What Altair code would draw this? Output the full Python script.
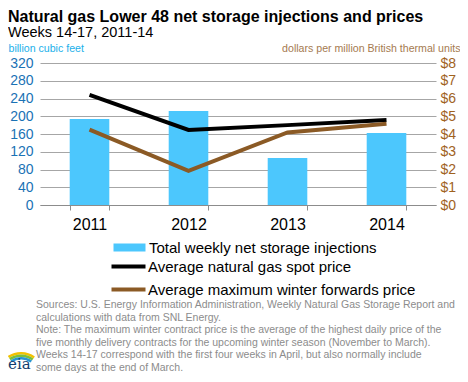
import altair as alt
import pandas as pd

years = ["2011", "2012", "2013", "2014"]
injections = [194, 212, 106, 162]
spot_price = [6.20, 4.23, 4.50, 4.79]
winter_fwd = [4.25, 1.92, 4.09, 4.58]

bar_label = "Total weekly net storage injections"
spot_label = "Average natural gas spot price"
fwd_label = "Average maximum winter forwards price"

notes = [
    "Sources: U.S. Energy Information Administration, Weekly Natural Gas Storage Report and",
    "calculations with data from SNL Energy.",
    "Note: The maximum winter contract price is the average of the highest daily price of the",
    "five monthly delivery contracts for the upcoming winter season (November to March).",
    "Weeks 14-17 correspond with the first four weeks in April, but also normally include",
    "some days at the end of March.",
]

logo_arc_colors = ["#f2c100", "#7cbf3a", "#2a96d4"]
logo_arc_outer = [24, 21.5, 19]

FONT = "Liberation Sans"
BAR_C = "#4cc7fd"
BROWN = "#8b5a25"

bars_df = pd.DataFrame({"year": years, "inj": injections, "series": bar_label})
lines_df = pd.DataFrame({
    "year": years * 2,
    "price": spot_price + winter_fwd,
    "series": [spot_label] * 4 + [fwd_label] * 4,
})

xenc = alt.X(
    "year:N",
    title=None,
    scale=alt.Scale(paddingInner=0.6, paddingOuter=0.3),
    axis=alt.Axis(
        labelAngle=0, labelFontSize=16, labelFont=FONT, labelColor="#000000",
        labelPadding=6, tickBand="extent", tickSize=5, tickColor="#8c8c8c",
        domainColor="#8c8c8c", grid=False,
    ),
)

bars = alt.Chart(bars_df).mark_bar(color=BAR_C).encode(
    x=xenc,
    y=alt.Y(
        "inj:Q",
        scale=alt.Scale(domain=[0, 320], nice=False),
        axis=alt.Axis(
            title="billion cubic feet", titleAngle=0, titleAlign="left",
            titleBaseline="alphabetic", titleX=-32, titleY=-12,
            titleFont=FONT, titleFontSize=10.6, titleFontWeight="normal", titleColor="#1ab0ea",
            values=list(range(0, 321, 40)), labelFontSize=14, labelFont=FONT,
            labelColor="#1a72b5", labelPadding=7, domain=False, ticks=False,
            grid=True, gridColor="#a6a6a6", gridWidth=1,
        ),
    ),
    fill=alt.Fill(
        "series:N",
        scale=alt.Scale(domain=[bar_label], range=[BAR_C]),
        legend=alt.Legend(
            title=None, orient="none", legendX=82, legendY=177,
            symbolType="M-4,-1H4V1H-4Z", symbolSize=64, symbolStrokeWidth=0,
            labelFont=FONT, labelFontSize=15, labelColor="#000000", labelOffset=12,
            labelLimit=400, padding=0,
        ),
    ),
)

lines = alt.Chart(lines_df).mark_line(strokeWidth=4, strokeCap="butt").encode(
    x=xenc,
    y=alt.Y(
        "price:Q",
        scale=alt.Scale(domain=[0, 8], nice=False),
        axis=alt.Axis(
            orient="right",
            title="dollars per million British thermal units", titleAngle=0,
            titleAlign="right", titleBaseline="alphabetic", titleX=24, titleY=-12,
            titleFont=FONT, titleFontSize=10.6, titleFontWeight="normal", titleColor="#a57a50",
            values=list(range(0, 9)), format="$d", labelFontSize=14, labelFont=FONT,
            labelColor="#a0621e", labelPadding=4, domain=False, ticks=False, grid=False,
        ),
    ),
    stroke=alt.Stroke(
        "series:N",
        scale=alt.Scale(domain=[spot_label, fwd_label], range=["#000000", BROWN]),
        sort=[spot_label, fwd_label],
        legend=alt.Legend(
            title=None, orient="none", legendX=81, legendY=196,
            symbolType="M-4.25,0H4.25", symbolSize=64, symbolStrokeWidth=4,
            labelFont=FONT, labelFontSize=15, labelColor="#000000", labelOffset=12,
            labelLimit=400, padding=0, rowPadding=6,
        ),
    ),
    detail="series:N",
)

notes_df = pd.DataFrame({"t": ["\n".join(notes)]})
note_text = alt.Chart(notes_df).mark_text(
    align="left", baseline="top", font=FONT, fontSize=10.5, color="#8c8c8c",
    lineHeight=12.5, lineBreak="\n",
).encode(text="t:N", x=alt.value(-4), y=alt.value(237))

arcs_df = pd.DataFrame({"c": logo_arc_colors, "r": logo_arc_outer})
logo_arcs = alt.Chart(arcs_df).mark_arc(theta=5.7, theta2=6.9).encode(
    x=alt.value(-19), y=alt.value(313),
    radius=alt.Radius("r:Q", scale=None),
    radius2=alt.Radius2("r2:Q"),
    color=alt.Color("c:N", scale=None),
).transform_calculate(r2="datum.r - 2.5")

logo_df = pd.DataFrame({"t": ["eia"]})
logo = alt.Chart(logo_df).mark_text(
    align="left", baseline="alphabetic", font="DejaVu Serif", fontSize=15,
    color="#123d6e",
).encode(text="t:N", x=alt.value(-32), y=alt.value(306))

chart = alt.layer(bars, lines, note_text, logo_arcs, logo).resolve_scale(
    y="independent", fill="independent", stroke="independent"
).properties(
    width=396, height=142,
    padding={"left": 32, "top": 55, "right": 24, "bottom": 169},
    autosize=alt.AutoSizeParams(type="none"),
    title=alt.Title(
        text="Natural gas Lower 48 net storage injections and prices",
        subtitle="Weeks 14-17, 2011-14",
        anchor="start", frame="group", dx=-32, dy=0,
        font=FONT, fontSize=16, fontWeight="bold", color="#000000",
        subtitleFont=FONT, subtitleFontSize=14.5, subtitleColor="#000000",
        subtitlePadding=1, offset=4,
    ),
).configure_view(stroke=None)

chart.save("out.html", embed_options={"renderer": "svg", "actions": False})
